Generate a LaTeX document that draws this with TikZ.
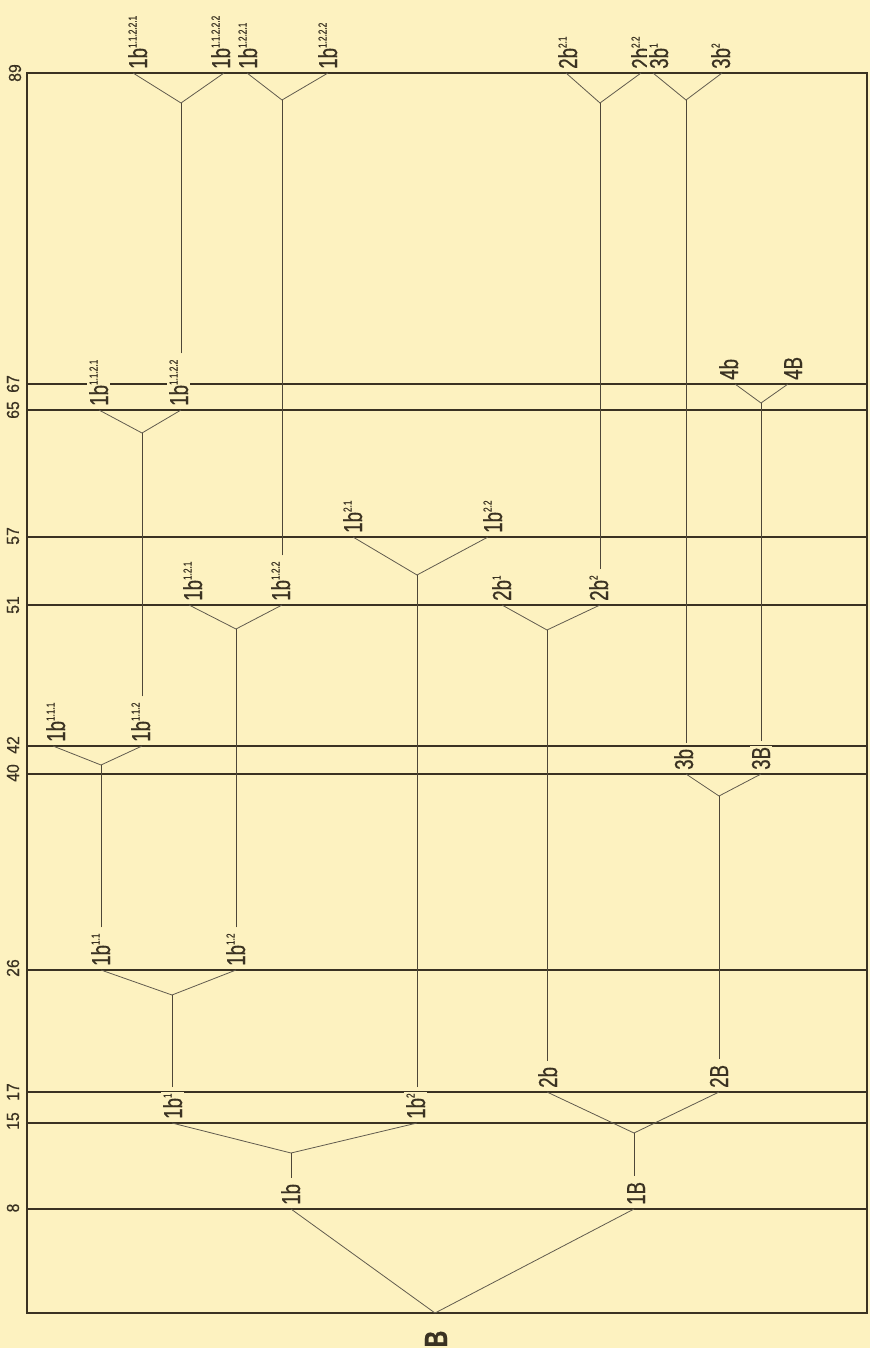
\documentclass[tikz,border=0pt]{standalone}
\usepackage{fontspec}
\setmainfont{Liberation Sans}
\newfontfamily\labfont[FakeStretch=0.72,FakeBold=0.6]{Liberation Sans}
\newfontfamily\numfont[FakeStretch=0.9,FakeBold=0.4]{Liberation Sans}
\usetikzlibrary{backgrounds,calc}
\definecolor{paper}{RGB}{253,242,192}
\definecolor{ink}{RGB}{58,50,34}
\newcommand{\sps}[1]{\raisebox{10.5pt}{\fontsize{11.5}{11.5}\selectfont #1}}
\newcommand{\tn}[5]{\coordinate (e#1) at (#2,#3);
  \node[lab] (t#1) at (#4,#3-3) {#5};}
\tikzset{
  lab/.style={rotate=90, anchor=base west, inner xsep=1pt, inner ysep=2pt,
    fill=paper, text=ink, font=\labfont\fontsize{26}{26}\selectfont},
  lvl/.style={rotate=90, anchor=center, inner sep=1pt, text=ink,
    font=\numfont\fontsize{17.5}{17.5}\selectfont},
  hline/.style={draw=ink, line width=1.3pt},
  diag/.style={draw=ink!80, line width=0.8pt},
  stem/.style={draw=ink!90, line width=0.9pt, shorten <=5pt},
}
\begin{document}
\begin{tikzpicture}[x=1pt,y=-1pt]
\useasboundingbox (0,0) rectangle (870,1348);
% level numbers
\node[lvl] (L89) at (15,73) {89};
\node[lvl] (L67) at (13,384) {67};
\node[lvl] (L65) at (13,410) {65};
\node[lvl] (L57) at (13,536) {57};
\node[lvl] (L51) at (13,605) {51};
\node[lvl] (L42) at (13,745) {42};
\node[lvl] (L40) at (13,773) {40};
\node[lvl] (L26) at (13,968) {26};
\node[lvl] (L17) at (13,1092) {17};
\node[lvl] (L15) at (13,1121) {15};
\node[lvl] (L8) at (13,1208) {8};
% root
\coordinate (vB) at (435,1313);
\node[rotate=90, inner sep=0pt, text=ink, font=\labfont\bfseries\fontsize{32}{32}\selectfont] (tB) at (436,1339) {B};
% labelled points: name, x, y, label baseline x, text
\tn{1b}{291}{1209}{300}{1b}
\tn{1B}{634}{1209}{645}{1B}
\tn{1b1}{172}{1123}{182}{1b\sps{1}}
\tn{1b2}{417}{1123}{425}{1b\sps{2}}
\tn{2b}{547}{1092}{557}{2b}
\tn{2B}{719}{1092}{728}{2B}
\tn{1b11}{101}{970}{110}{1b\sps{1.1}}
\tn{1b12}{236}{970}{245}{1b\sps{1.2}}
\tn{1b111}{53}{746}{65}{1b\sps{1.1.1}}
\tn{1b112}{142}{746}{150}{1b\sps{1.1.2}}
\tn{3b}{686}{774}{693}{3b}
\tn{3B}{761}{774}{770}{3B}
\tn{1b121}{189}{605}{202}{1b\sps{1.2.1}}
\tn{1b122}{282}{605}{290}{1b\sps{1.2.2}}
\tn{2b1}{502}{605}{511}{2b\sps{1}}
\tn{2b2}{600}{605}{608}{2b\sps{2}}
\tn{1b21}{353}{537}{362}{1b\sps{2.1}}
\tn{1b22}{488}{537}{502}{1b\sps{2.2}}
\tn{1b1121}{99}{410}{108}{1b\sps{1.1.2.1}}
\tn{1b1122}{181}{410}{188}{1b\sps{1.1.2.2}}
\tn{4b}{735}{384}{738}{4b}
\tn{4B}{788}{384}{802}{4B}
\tn{1b11221}{133}{73}{147}{1b\sps{1.1.2.2.1}}
\tn{1b11222}{224}{73}{230}{1b\sps{1.1.2.2.2}}
\tn{1b1221}{247}{73}{257}{1b\sps{1.2.2.1}}
\tn{1b1222}{328}{73}{337}{1b\sps{1.2.2.2}}
\tn{2b21}{566}{73}{577}{2b\sps{2.1}}
\tn{2b22}{641}{73}{650}{2b\sps{2.2}}
\tn{3b1}{653}{73}{668}{3b\sps{1}}
\tn{3b2}{722}{73}{730}{3b\sps{2}}
% junctions
\coordinate (j1b) at (291,1153);
\coordinate (j1B) at (634,1133);
\coordinate (j1b1) at (172,995);
\coordinate (j1b2) at (417,575);
\coordinate (j2b) at (547,630);
\coordinate (j2B) at (719,796);
\coordinate (j1b11) at (101,765);
\coordinate (j1b12) at (236,629);
\coordinate (j3b) at (686,100);
\coordinate (j3B) at (761,403);
\coordinate (j1b112) at (142,433);
\coordinate (j1b122) at (282,100);
\coordinate (j2b2) at (600,103);
\coordinate (j1b1122) at (181,103);
\begin{scope}[on background layer]
\fill[paper] (0,0) rectangle (870,1348);
\foreach \yy in {384,410,537,605,746,774,970,1092,1123,1209}
  \draw[hline] (27,\yy) -- (867,\yy);
\draw[hline] (27,73) rectangle (867,1313);
% forks
\draw[diag] (e1b) -- (vB) -- (e1B);
\draw[diag] (e1b1) -- (j1b) -- (e1b2);
\draw[diag] (e2b) -- (j1B) -- (e2B);
\draw[diag] (e1b11) -- (j1b1) -- (e1b12);
\draw[diag] (e1b21) -- (j1b2) -- (e1b22);
\draw[diag] (e2b1) -- (j2b) -- (e2b2);
\draw[diag] (e3b) -- (j2B) -- (e3B);
\draw[diag] (e1b111) -- (j1b11) -- (e1b112);
\draw[diag] (e1b121) -- (j1b12) -- (e1b122);
\draw[diag] (e3b1) -- (j3b) -- (e3b2);
\draw[diag] (e4b) -- (j3B) -- (e4B);
\draw[diag] (e1b1121) -- (j1b112) -- (e1b1122);
\draw[diag] (e1b1221) -- (j1b122) -- (e1b1222);
\draw[diag] (e2b21) -- (j2b2) -- (e2b22);
\draw[diag] (e1b11221) -- (j1b1122) -- (e1b11222);
% stems
\draw[stem] (t1b.east -| e1b) -- (j1b);
\draw[stem] (t1B.east -| e1B) -- (j1B);
\draw[stem] (t1b1.east -| e1b1) -- (j1b1);
\draw[stem] (t1b2.east -| e1b2) -- (j1b2);
\draw[stem] (t2b.east -| e2b) -- (j2b);
\draw[stem] (t2B.east -| e2B) -- (j2B);
\draw[stem] (t1b11.east -| e1b11) -- (j1b11);
\draw[stem] (t1b12.east -| e1b12) -- (j1b12);
\draw[stem] (t1b112.east -| e1b112) -- (j1b112);
\draw[stem] (t3b.east -| e3b) -- (j3b);
\draw[stem] (t3B.east -| e3B) -- (j3B);
\draw[stem] (t1b122.east -| e1b122) -- (j1b122);
\draw[stem] (t2b2.east -| e2b2) -- (j2b2);
\draw[stem] (t1b1122.east -| e1b1122) -- (j1b1122);
\end{scope}
\end{tikzpicture}
\end{document}
